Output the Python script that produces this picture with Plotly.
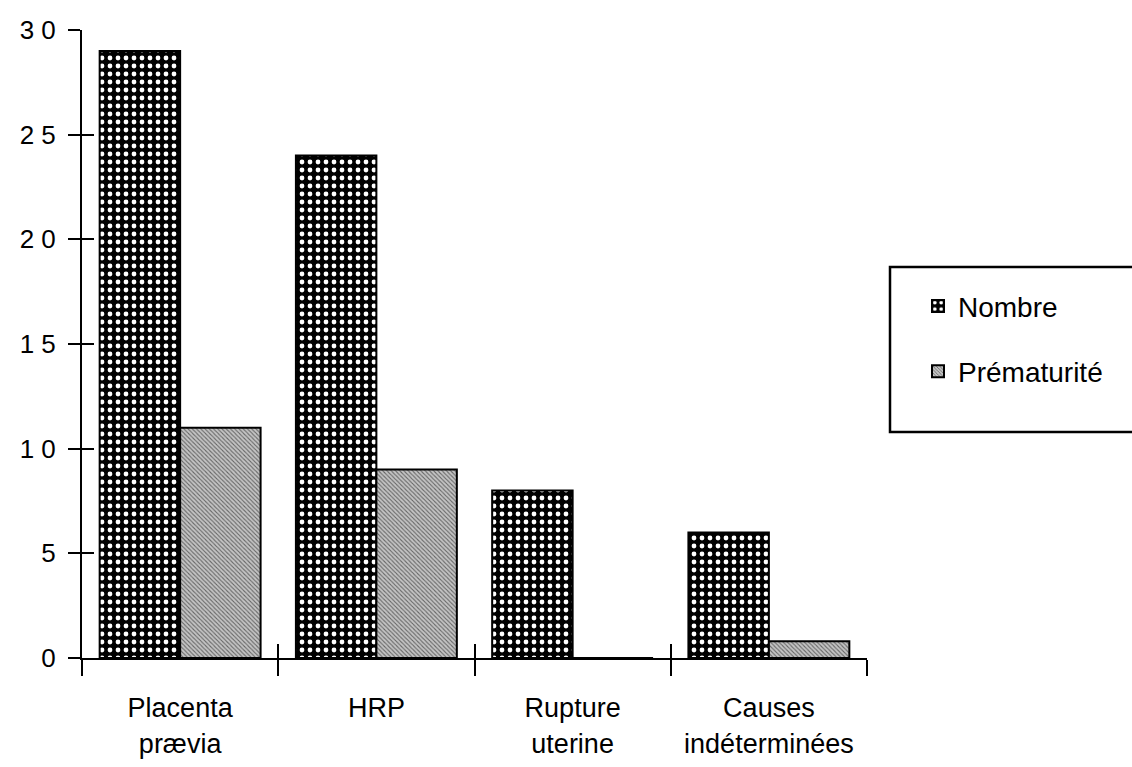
import plotly.graph_objects as go

categories = ["Placenta<br>prævia", "HRP", "Rupture<br>uterine", "Causes<br>indéterminées"]
nombre = [29, 24, 8, 6]
prematurite = [11, 9, 0, 0.8]
y_tickvals = [0, 5, 10, 15, 20, 25, 30]
y_ticktext = ["0", "5", "1 0", "1 5", "2 0", "2 5", "3 0"]

FONT = "Liberation Sans, Arial, sans-serif"

fig = go.Figure()
fig.add_trace(go.Bar(
    name="Nombre", x=categories, y=nombre, legendgroup="a",
    marker=dict(color="black", line=dict(color="black", width=2),
                pattern=dict(shape=".", fgcolor="white", bgcolor="black",
                             size=8, solidity=0.28, fillmode="replace")),
))
fig.add_trace(go.Bar(
    name="Prématurité", x=categories, y=prematurite, legendgroup="b",
    marker=dict(color="#b4b4b4", line=dict(color="black", width=2),
                pattern=dict(shape="\\", fgcolor="#666666", bgcolor="#c4c4c4",
                             size=3, solidity=0.35, fillmode="replace")),
))
# invisible trace to carry overlay axes for crossing tick marks
fig.add_trace(go.Scatter(x=[0], y=[0], xaxis="x2", yaxis="y2", mode="markers",
                         marker=dict(opacity=0), showlegend=False, hoverinfo="skip"))

L, R = 82, 265
W = 1132 - L - R

fig.update_layout(
    width=1132, height=767,
    margin=dict(l=L, r=R, t=30, b=109, autoexpand=False),
    paper_bgcolor="white", plot_bgcolor="white",
    barmode="group", bargap=0.18, bargroupgap=0,
    font=dict(family=FONT, color="black", size=26),
    showlegend=True,
    legend=dict(x=(918 - L) / W, y=0.6, xanchor="left", yanchor="top",
                borderwidth=0, bgcolor="rgba(0,0,0,0)",
                font=dict(size=28, family=FONT), tracegroupgap=26,
                traceorder="grouped", itemwidth=30),
    shapes=[dict(type="rect", xref="paper", yref="paper",
                 x0=(890 - L) / W, x1=(1140 - L) / W,
                 y0=(658 - 432) / 628, y1=(658 - 267) / 628,
                 line=dict(color="black", width=2.5), fillcolor="rgba(0,0,0,0)")],
    xaxis=dict(showline=True, linecolor="black", linewidth=2,
               ticks="outside", tickson="boundaries", ticklen=16, tickwidth=2,
               tickcolor="black", showgrid=False, zeroline=False,
               tickfont=dict(size=27, family=FONT), ticklabelstandoff=25,
               range=[-0.5, 3.5], automargin=False),
    yaxis=dict(showline=True, linecolor="black", linewidth=2, range=[0, 30],
               tickvals=y_tickvals, ticktext=y_ticktext,
               ticks="outside", ticklen=12, tickwidth=2, tickcolor="black",
               showgrid=False, zeroline=False, tickfont=dict(size=26, family=FONT),
               ticklabelstandoff=7, automargin=False),
    xaxis2=dict(overlaying="x", anchor="y2", range=[-0.5, 3.5],
                tickvals=[-0.5, 0.5, 1.5, 2.5, 3.5], ticks="inside", ticklen=14,
                tickwidth=2, tickcolor="black", showticklabels=False,
                showgrid=False, zeroline=False, showline=False),
    yaxis2=dict(overlaying="y", anchor="x2", side="left", range=[0, 30],
                tickvals=y_tickvals, ticks="inside", ticklen=12, tickwidth=2,
                tickcolor="black", showticklabels=False, showgrid=False,
                zeroline=False, showline=False),
)

fig.write_html("out.html")
